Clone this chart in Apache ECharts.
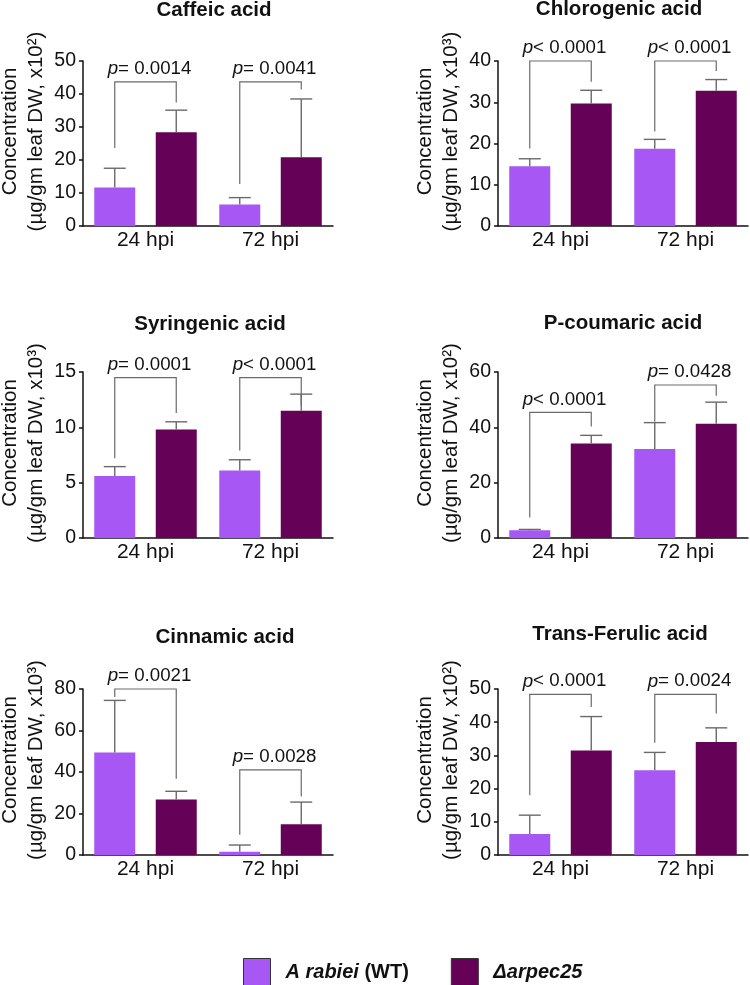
<!DOCTYPE html>
<html><head><meta charset="utf-8">
<script src="https://cdn.jsdelivr.net/npm/echarts@6/dist/echarts.min.js"></script>
<style>html,body{margin:0;padding:0;background:#fff}#c{width:750px;height:985px}</style>
</head><body><div id="c"></div>
<script>
// ---------- data ----------
const categories = ['24 hpi', '72 hpi'];
const titles = ['Caffeic acid', 'Chlorogenic acid', 'Syringenic acid', 'P-coumaric acid', 'Cinnamic acid', 'Trans-Ferulic acid'];
const seriesNames = ['A rabiei (WT)', 'Δarpec25'];
const yUnits = ['x10²', 'x10³', 'x10³', 'x10²', 'x10³', 'x10²'];
const yMax = [50, 40, 15, 60, 80, 50];
const yInterval = [10, 10, 5, 20, 20, 10];
const wtMean = [[11.7, 6.5], [14.5, 18.7], [5.6, 6.1], [2.8, 32.2], [49.4, 1.6], [6.3, 25.5]];
const wtSD = [[5.8, 2.1], [1.8, 2.3], [0.85, 0.97], [0.3, 9.5], [25.1, 3.2], [5.7, 5.4]];
const mutMean = [[28.4, 20.8], [29.7, 32.8], [9.8, 11.5], [34.2, 41.3], [26.7, 14.8], [31.5, 34.0]];
const mutSD = [[6.7, 17.7], [3.2, 2.7], [0.7, 1.5], [2.9, 7.8], [4.0, 10.7], [10.2, 4.3]];
const bracketLeft = [[23.6, 12.7], [18.8, 22.9], [7.2, 7.9], [7.4, 42.1], [76.1, 9.7], [18.0, 33.8]];
const bracketTop = [[43.7, 43.7], [40, 40], [14.5, 14.5], [45.4, 55.3], [80, 41.0], [48.4, 48.4]];
const bracketRight = [[37.4, 41.4], [35.0, 37.6], [11.3, 12.0], [40.3, 51.4], [36.7, 28.2], [44.6, 42.6]];
const pLabels = [['= 0.0014', '= 0.0041'], ['< 0.0001', '< 0.0001'], ['= 0.0001', '< 0.0001'], ['< 0.0001', '= 0.0428'], ['= 0.0021', '= 0.0028'], ['< 0.0001', '= 0.0024']];

// ---------- layout / style ----------
const FONT = 'Liberation Sans, Arial, Helvetica, sans-serif';
const colors = ['#A757F4', '#650157'];
const grids = [
  {left: 83, top: 61, width: 250, height: 165},
  {left: 498, top: 61, width: 250, height: 165},
  {left: 83, top: 372, width: 250, height: 166},
  {left: 498, top: 372, width: 250, height: 166},
  {left: 83, top: 689, width: 250, height: 166},
  {left: 498, top: 689, width: 250, height: 166}
].map(g => Object.assign({outerBoundsMode: 'none', containLabel: false}, g));
const titlePos = [[214, 10], [619, 9], [210, 324], [623, 323], [225, 637], [620, 634]];
const BAR_W = 41;
const BAR_OFF = 30.75;
const CAP = 22;
const GRAY = '#6a6a6a';

function makeRender(p) {
  return function (params, api) {
    const ci = api.value(0);
    const cx = api.coord([ci, 0])[0];
    const xW = cx - BAR_OFF, xM = cx + BAR_OFF;
    const ch = [];
    const ln = (x1, y1, x2, y2) => ({type: 'line', shape: {x1, y1, x2, y2}, style: {stroke: GRAY, lineWidth: 1.4}});
    [[xW, api.value(1), api.value(2)], [xM, api.value(3), api.value(4)]].forEach(([x, m, s]) => {
      const y0 = api.coord([ci, m])[1], y1 = api.coord([ci, m + s])[1];
      ch.push(ln(x, y0, x, y1), ln(x - CAP / 2, y1, x + CAP / 2, y1));
    });
    const yl = api.coord([ci, api.value(5)])[1];
    const yt = api.coord([ci, api.value(6)])[1];
    const yr = api.coord([ci, api.value(7)])[1];
    ch.push({type: 'polyline', shape: {points: [[xW, yl], [xW, yt], [xM, yt], [xM, yr]]},
      style: {stroke: GRAY, fill: null, lineWidth: 1.2}});
    ch.push({type: 'text', x: cx + 4, y: yt - 13, style: {
      text: '{i|p}{n|' + pLabels[p][ci] + '}', align: 'center', verticalAlign: 'middle',
      fontSize: 18.7, fontFamily: FONT, fill: '#111',
      rich: {i: {fontStyle: 'italic', fontSize: 18.7, fontFamily: FONT, fill: '#111'},
             n: {fontSize: 18.7, fontFamily: FONT, fill: '#111'}}
    }});
    return {type: 'group', children: ch};
  };
}

const xAxes = [], yAxes = [], series = [], graphics = [];
grids.forEach((g, i) => {
  xAxes.push({
    type: 'category', gridIndex: i, data: categories,
    axisLine: {lineStyle: {color: '#111', width: 1.5}},
    axisTick: {alignWithLabel: true, length: 5, lineStyle: {color: '#111', width: 1.5}},
    axisLabel: {fontSize: 21, color: '#111', fontFamily: FONT, margin: 4}
  });
  yAxes.push({
    type: 'value', gridIndex: i, min: 0, max: yMax[i], interval: yInterval[i],
    splitLine: {show: false},
    axisLine: {show: true, lineStyle: {color: '#111', width: 1.5}},
    axisTick: {show: true, length: 4, lineStyle: {color: '#111', width: 1.5}},
    axisLabel: {fontSize: 19.5, color: '#111', fontFamily: FONT, margin: 7},
    name: 'Concentration\n(µg/gm leaf DW, ' + yUnits[i] + ')',
    nameLocation: 'middle', nameRotate: 90, nameGap: 34, nameMoveOverlap: false,
    nameTextStyle: {fontSize: 20.5, lineHeight: 26, color: '#111', fontFamily: FONT, padding: [0, 0, 0, 24]}
  });
  series.push({
    name: seriesNames[0], type: 'bar', xAxisIndex: i, yAxisIndex: i, data: wtMean[i],
    barWidth: BAR_W, barGap: '50%', itemStyle: {color: colors[0]}
  });
  series.push({
    name: seriesNames[1], type: 'bar', xAxisIndex: i, yAxisIndex: i, data: mutMean[i],
    barWidth: BAR_W, barGap: '50%', itemStyle: {color: colors[1]}
  });
  series.push({
    type: 'custom', xAxisIndex: i, yAxisIndex: i, z: 5, silent: true,
    renderItem: makeRender(i),
    data: categories.map((c, k) => [k, wtMean[i][k], wtSD[i][k], mutMean[i][k], mutSD[i][k],
      bracketLeft[i][k], bracketTop[i][k], bracketRight[i][k]])
  });
  graphics.push({
    type: 'text', x: titlePos[i][0], y: titlePos[i][1],
    style: {text: titles[i], align: 'center', verticalAlign: 'middle',
      fontSize: 20.5, fontWeight: 'bold', fontFamily: FONT, fill: '#111'}
  });
});

const chart = echarts.init(document.getElementById('c'), null, {renderer: 'canvas'});
chart.setOption({
  animation: false,
  backgroundColor: '#fff',
  grid: grids,
  xAxis: xAxes,
  yAxis: yAxes,
  series: series,
  graphic: graphics,
  legend: {
    data: seriesNames, left: 243, top: 958, padding: 0, itemWidth: 27, itemHeight: 27, itemGap: 42, icon: 'rect',
    itemStyle: {borderColor: '#333', borderWidth: 1},
    formatter: n => n === seriesNames[0] ? '{bi|A rabiei} {b|(WT)}' : '{bi|' + n + '}',
    textStyle: {fontSize: 20, fontWeight: 'bold', color: '#111', fontFamily: FONT, padding: [0, 0, 0, 10],
      rich: {bi: {fontStyle: 'italic', fontWeight: 'bold', fontSize: 20, fontFamily: FONT, color: '#111'},
             b: {fontWeight: 'bold', fontSize: 20, fontFamily: FONT, color: '#111'}}}
  }
});
</script></body></html>
